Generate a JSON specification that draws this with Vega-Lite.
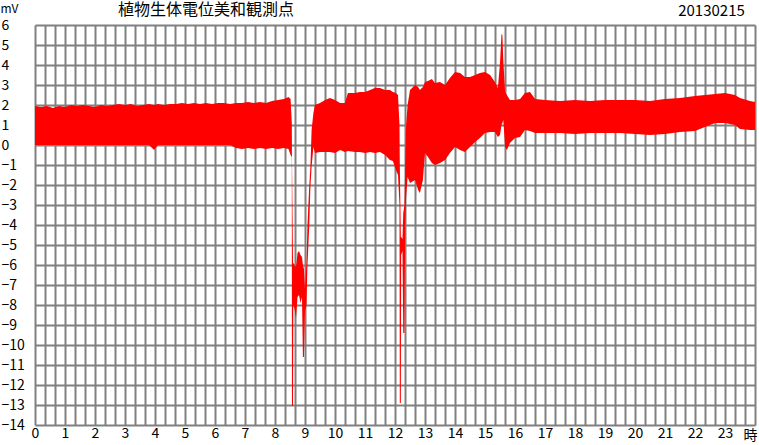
{
  "$schema": "https://vega.github.io/schema/vega-lite/v6.json",
  "width": 720,
  "height": 400,
  "autosize": "none",
  "padding": {"left": 35, "top": 25, "right": 4, "bottom": 20},
  "background": "white",
  "title": {"text": "植物生体電位美和観測点", "anchor": "start", "dx": 118, "offset": 6, "dy": 22, "fontSize": 16, "font": "Noto Sans CJK JP", "fontWeight": "normal", "color": "black"},
  "data": {"values": [
    {"t":0,"hi":1.95,"lo":0},{"t":0.2,"hi":1.9,"lo":0},{"t":0.4,"hi":1.95,"lo":0},{"t":0.6,"hi":1.85,"lo":0},{"t":0.8,"hi":1.95,"lo":0},
    {"t":1.0,"hi":1.9,"lo":0},{"t":1.2,"hi":2.0,"lo":0},{"t":1.4,"hi":1.95,"lo":0},{"t":1.6,"hi":2.0,"lo":0},{"t":1.8,"hi":1.95,"lo":0},
    {"t":2.0,"hi":1.9,"lo":0},{"t":2.2,"hi":2.0,"lo":0},{"t":2.4,"hi":1.95,"lo":0},{"t":2.6,"hi":2.0,"lo":0},{"t":2.8,"hi":2.05,"lo":0},
    {"t":3.0,"hi":2.0,"lo":0},{"t":3.2,"hi":2.05,"lo":0},{"t":3.4,"hi":1.95,"lo":0},{"t":3.6,"hi":2.0,"lo":0},{"t":3.8,"hi":2.05,"lo":0},
    {"t":3.97,"hi":2.0,"lo":-0.25},{"t":4.1,"hi":2.05,"lo":0},{"t":4.3,"hi":2.0,"lo":0},{"t":4.5,"hi":2.05,"lo":0},{"t":4.7,"hi":2.05,"lo":0},
    {"t":4.9,"hi":2.1,"lo":0},{"t":5.1,"hi":2.05,"lo":0},{"t":5.3,"hi":2.1,"lo":0},{"t":5.5,"hi":2.05,"lo":0},{"t":5.7,"hi":2.1,"lo":0},
    {"t":5.9,"hi":2.05,"lo":0},{"t":6.1,"hi":2.1,"lo":0},{"t":6.3,"hi":2.1,"lo":0},{"t":6.5,"hi":2.05,"lo":0},{"t":6.7,"hi":2.1,"lo":-0.15},
    {"t":6.9,"hi":2.1,"lo":-0.2},{"t":7.1,"hi":2.15,"lo":-0.15},{"t":7.3,"hi":2.1,"lo":-0.2},{"t":7.5,"hi":2.15,"lo":-0.15},{"t":7.7,"hi":2.1,"lo":-0.2},
    {"t":7.9,"hi":2.2,"lo":-0.15},{"t":8.1,"hi":2.25,"lo":-0.2},{"t":8.3,"hi":2.3,"lo":-0.15},{"t":8.45,"hi":2.4,"lo":-0.2},{"t":8.52,"hi":2.3,"lo":-0.5},
    {"t":8.56,"hi":1.1,"lo":-0.6},{"t":8.565,"hi":-0.5,"lo":-13.05},{"t":8.6,"hi":-5.9,"lo":-13.05},{"t":8.61,"hi":-5.9,"lo":-8.0},{"t":8.65,"hi":-6.0,"lo":-8.2},{"t":8.7,"hi":-6.1,"lo":-8.65},
    {"t":8.75,"hi":-5.4,"lo":-7.6},{"t":8.8,"hi":-5.3,"lo":-7.5},{"t":8.85,"hi":-5.5,"lo":-7.9},{"t":8.9,"hi":-5.6,"lo":-7.6},{"t":8.93,"hi":-6.0,"lo":-10.6},{"t":8.965,"hi":-6.2,"lo":-10.6},
    {"t":9.0,"hi":-7.2,"lo":-8.3},{"t":9.05,"hi":-5.9,"lo":-8.0},{"t":9.08,"hi":-4.1,"lo":-6.1},{"t":9.14,"hi":-2.1,"lo":-4.1},{"t":9.18,"hi":-1.1,"lo":-2.1},
    {"t":9.22,"hi":0.75,"lo":-1.1},{"t":9.28,"hi":1.6,"lo":-0.1},{"t":9.33,"hi":2.0,"lo":-0.4},{"t":9.5,"hi":2.1,"lo":-0.35},{"t":9.67,"hi":2.25,"lo":-0.35},
    {"t":9.83,"hi":2.35,"lo":-0.35},{"t":10.0,"hi":2.25,"lo":-0.4},{"t":10.17,"hi":2.1,"lo":-0.25},{"t":10.33,"hi":2.1,"lo":-0.35},{"t":10.43,"hi":2.6,"lo":-0.3},
    {"t":10.67,"hi":2.6,"lo":-0.35},{"t":10.83,"hi":2.65,"lo":-0.35},{"t":11.0,"hi":2.65,"lo":-0.4},{"t":11.17,"hi":2.75,"lo":-0.35},{"t":11.33,"hi":2.85,"lo":-0.4},
    {"t":11.5,"hi":2.85,"lo":-0.35},{"t":11.67,"hi":2.75,"lo":-0.5},{"t":11.83,"hi":2.75,"lo":-0.75},{"t":11.93,"hi":2.65,"lo":-0.8},{"t":12.03,"hi":2.6,"lo":-1.25},
    {"t":12.1,"hi":2.5,"lo":-1.5},{"t":12.15,"hi":1.0,"lo":-3.0},{"t":12.16,"hi":-1.0,"lo":-12.9},{"t":12.195,"hi":-4.6,"lo":-12.9},{"t":12.205,"hi":-4.6,"lo":-5.5},{"t":12.25,"hi":-4.7,"lo":-5.3},
    {"t":12.275,"hi":-3.4,"lo":-9.4},{"t":12.315,"hi":-3.0,"lo":-9.4},{"t":12.34,"hi":-1.0,"lo":-4.0},{"t":12.37,"hi":1.0,"lo":-2.6},{"t":12.42,"hi":2.0,"lo":-1.6},{"t":12.5,"hi":2.75,"lo":-1.9},
    {"t":12.67,"hi":3.0,"lo":-1.75},{"t":12.77,"hi":2.9,"lo":-2.25},{"t":12.83,"hi":2.75,"lo":-2.4},{"t":12.93,"hi":2.9,"lo":-1.75},{"t":13.0,"hi":3.15,"lo":-0.4},
    {"t":13.1,"hi":3.2,"lo":-0.6},{"t":13.23,"hi":3.3,"lo":-0.9},{"t":13.33,"hi":3.1,"lo":-1.0},{"t":13.5,"hi":3.15,"lo":-0.9},{"t":13.67,"hi":3.0,"lo":-0.75},
    {"t":13.83,"hi":3.35,"lo":-0.4},{"t":14.0,"hi":3.65,"lo":-0.1},{"t":14.17,"hi":3.6,"lo":-0.25},{"t":14.33,"hi":3.4,"lo":-0.35},{"t":14.5,"hi":3.4,"lo":-0.1},
    {"t":14.67,"hi":3.5,"lo":0.15},{"t":14.83,"hi":3.6,"lo":0.35},{"t":15.0,"hi":3.65,"lo":0.6},{"t":15.17,"hi":3.5,"lo":0.65},{"t":15.33,"hi":3.15,"lo":0.65},
    {"t":15.43,"hi":2.85,"lo":0.4},{"t":15.5,"hi":4.1,"lo":0.5},{"t":15.55,"hi":5.55,"lo":1.0},{"t":15.58,"hi":5.5,"lo":1.1},{"t":15.61,"hi":4.25,"lo":1.25},{"t":15.67,"hi":2.65,"lo":-0.1},
    {"t":15.73,"hi":2.5,"lo":-0.25},{"t":15.83,"hi":2.25,"lo":0.1},{"t":16.0,"hi":2.25,"lo":0.35},{"t":16.17,"hi":2.3,"lo":0.4},{"t":16.33,"hi":2.6,"lo":0.75},
    {"t":16.5,"hi":2.65,"lo":0.7},{"t":16.67,"hi":2.3,"lo":0.6},{"t":17.0,"hi":2.25,"lo":0.6},{"t":17.5,"hi":2.2,"lo":0.6},{"t":18.0,"hi":2.25,"lo":0.55},
    {"t":18.5,"hi":2.2,"lo":0.6},{"t":19.0,"hi":2.25,"lo":0.6},{"t":19.5,"hi":2.25,"lo":0.6},{"t":20.0,"hi":2.25,"lo":0.55},{"t":20.5,"hi":2.2,"lo":0.5},
    {"t":21.0,"hi":2.3,"lo":0.55},{"t":21.5,"hi":2.35,"lo":0.65},{"t":22.0,"hi":2.45,"lo":0.7},{"t":22.33,"hi":2.5,"lo":0.9},{"t":22.67,"hi":2.55,"lo":1.1},
    {"t":23.0,"hi":2.6,"lo":1.1},{"t":23.33,"hi":2.5,"lo":1.0},{"t":23.5,"hi":2.35,"lo":0.8},{"t":23.83,"hi":2.2,"lo":0.75},{"t":24.0,"hi":2.15,"lo":0.75}
  ]},
  "resolve": {"axis": {"x": "independent"}},
  "layer": [
    {
      "mark": {"type": "area", "color": "#ff0000", "interpolate": "linear", "opacity": 1},
      "encoding": {
        "x": {"field": "t", "type": "quantitative", "scale": {"domain": [0, 24], "nice": false, "zero": false},
          "axis": {"orient": "bottom", "values": [0,0.3333,0.6667,1,1.3333,1.6667,2,2.3333,2.6667,3,3.3333,3.6667,4,4.3333,4.6667,5,5.3333,5.6667,6,6.3333,6.6667,7,7.3333,7.6667,8,8.3333,8.6667,9,9.3333,9.6667,10,10.3333,10.6667,11,11.3333,11.6667,12,12.3333,12.6667,13,13.3333,13.6667,14,14.3333,14.6667,15,15.3333,15.6667,16,16.3333,16.6667,17,17.3333,17.6667,18,18.3333,18.6667,19,19.3333,19.6667,20,20.3333,20.6667,21,21.3333,21.6667,22,22.3333,22.6667,23,23.3333,23.6667,24],
            "labelExpr": "abs(datum.value - round(datum.value)) < 0.01 && datum.value < 23.5 ? '' + round(datum.value) : ''",
            "grid": true, "gridColor": "#808080", "gridWidth": 2, "gridOpacity": 1,
            "ticks": false, "tickSize": 0, "domain": false,
            "labelFont": "Noto Sans CJK JP", "labelFontSize": 14, "labelColor": "black", "labelPadding": 1, "labelBaseline": "top", "labelFlush": false, "labelOverlap": false,
            "title": "時", "titleFont": "Noto Sans CJK JP", "titleFontSize": 14, "titleFontWeight": "normal", "titleColor": "black",
            "titleX": 715, "titleY": 10, "titleAlign": "center", "titleBaseline": "middle"}},
        "y": {"field": "hi", "type": "quantitative", "scale": {"domain": [-14, 6], "nice": false, "zero": false},
          "axis": {"values": [-14,-13,-12,-11,-10,-9,-8,-7,-6,-5,-4,-3,-2,-1,0,1,2,3,4,5,6],
            "grid": true, "gridColor": "#808080", "gridWidth": 2, "gridOpacity": 1,
            "ticks": false, "tickSize": 0, "domain": false,
            "labelFont": "Noto Sans CJK JP", "labelFontSize": 14, "labelColor": "black", "labelAlign": "left", "labelPadding": 34, "labelBaseline": "middle", "labelFlush": false, "labelOverlap": false,
            "title": "mV", "titleFont": "Noto Sans CJK JP", "titleFontSize": 12, "titleFontWeight": "normal", "titleColor": "black",
            "titleAngle": 0, "titleX": -35, "titleY": -17, "titleAlign": "left", "titleBaseline": "middle"}},
        "y2": {"field": "lo"}
      }
    },
    {
      "mark": {"type": "rule", "opacity": 0},
      "encoding": {
        "x": {"field": "t", "type": "quantitative",
          "axis": {"orient": "top", "labels": false, "ticks": false, "domain": false, "grid": false,
            "title": "20130215", "titleFont": "Noto Sans CJK JP", "titleFontSize": 15, "titleFontWeight": "normal", "titleColor": "black",
            "titleX": 676, "titleY": -15, "titleAlign": "center", "titleBaseline": "middle"}}
      }
    }
  ],
  "config": {"view": {"stroke": null}}
}
